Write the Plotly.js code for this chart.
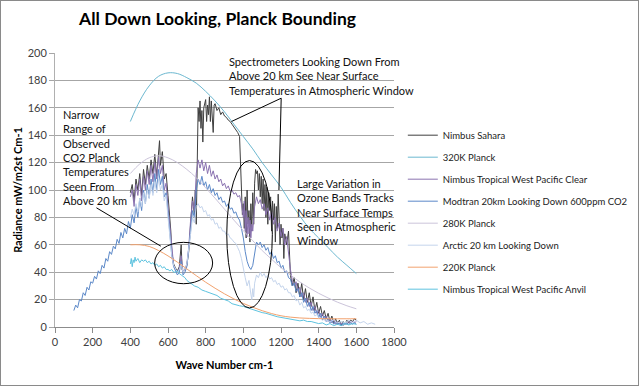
<!DOCTYPE html>
<html><head><meta charset="utf-8">
<script src="https://cdn.plot.ly/plotly-3.0.1.min.js"></script>
<style>
html,body{margin:0;padding:0;background:#fff;}
#chart{width:639px;height:386px;box-sizing:border-box;border:1px solid #8a8a8a;}
</style></head>
<body><div id="chart"></div>
<script>
// [wave number cm-1, radiance mW/m2 sr cm-1]
const nimbusSahara = [[400,98],[410,104],[420,92],[430,108],[440,100],[450,112],[460,96],[470,115],[480,104],[490,118],[500,108],[510,122],[520,112],[530,126],[540,110],[550,130],[555,136],[560,118],[570,128],[580,108],[590,112],[600,96],[610,82],[615,70],[620,55],[630,46],[640,43],[650,41],[660,44],[670,60],[675,42],[680,40],[690,42],[700,45],[710,55],[720,75],[730,95],[740,82],[745,100],[750,75],[755,120],[760,160],[765,150],[770,165],[775,145],[780,158],[785,135],[790,160],[800,166],[805,150],[810,162],[815,155],[820,168],[825,150],[830,165],[840,142],[845,162],[850,163],[860,158],[870,160],[880,155],[890,157],[900,154],[910,153],[920,151],[930,150],[940,148],[950,146],[960,144],[970,142],[980,139],[985,120],[990,100],[995,82],[1000,90],[1005,72],[1010,95],[1015,65],[1020,100],[1025,75],[1030,85],[1035,62],[1040,90],[1045,70],[1050,98],[1055,75],[1060,105],[1065,115],[1070,112],[1075,114],[1080,100],[1085,112],[1090,95],[1095,110],[1100,90],[1105,108],[1110,85],[1115,104],[1120,80],[1125,102],[1130,75],[1135,98],[1140,85],[1145,95],[1150,70],[1155,92],[1160,78],[1165,90],[1170,62],[1175,88],[1180,72],[1185,97],[1190,80],[1195,60],[1200,75],[1205,65],[1210,72],[1215,50],[1220,68],[1230,60],[1240,70],[1245,45],[1250,38],[1260,30],[1270,36],[1280,25],[1290,32],[1300,22],[1310,32],[1320,20],[1330,28],[1340,18],[1350,25],[1360,15],[1370,22],[1380,12],[1390,18],[1400,10],[1410,15],[1420,8],[1430,12],[1440,6],[1450,10],[1460,4],[1470,8],[1480,3],[1490,6],[1500,2],[1510,5],[1520,1],[1530,4],[1540,2],[1550,5],[1560,3],[1570,5],[1580,4],[1590,6],[1600,5]];

const planck320K = [[400,150],[450,165],[500,176],[550,183],[600,185.5],[650,185],[700,182],[750,178],[800,172],[850,165],[900,157],[950,148],[1000,139],[1050,130],[1100,120],[1150,111],[1200,102],[1250,91],[1300,81],[1350,72],[1400,65],[1450,58],[1500,51],[1550,45],[1600,39]];

const nimbusClear = [[400,95],[410,100],[420,88],[430,104],[440,96],[450,108],[460,92],[470,110],[480,100],[490,114],[500,104],[510,118],[520,106],[530,120],[540,108],[550,124],[560,112],[570,118],[580,100],[590,105],[600,88],[610,72],[620,55],[630,45],[640,42],[650,40],[660,43],[670,52],[680,40],[690,42],[700,46],[710,58],[720,78],[730,92],[740,85],[750,112],[760,122],[770,116],[780,122],[790,114],[800,120],[810,112],[820,118],[830,110],[840,114],[850,108],[860,111],[870,106],[880,108],[890,103],[900,105],[910,101],[920,103],[930,99],[940,100],[950,97],[960,98],[970,95],[980,96],[990,90],[1000,80],[1005,92],[1010,70],[1015,85],[1020,66],[1025,80],[1030,68],[1035,78],[1040,65],[1045,75],[1050,70],[1055,82],[1060,88],[1070,95],[1080,90],[1090,93],[1100,86],[1110,90],[1120,82],[1130,87],[1140,78],[1150,84],[1160,75],[1170,80],[1180,70],[1190,76],[1200,66],[1210,72],[1220,60],[1230,66],[1240,52],[1250,42],[1260,34],[1270,30],[1280,33],[1290,26],[1300,29],[1310,22],[1320,25],[1330,18],[1340,21],[1350,15],[1360,18],[1370,12],[1380,15],[1390,10],[1400,12],[1410,7],[1420,10],[1430,5],[1440,8],[1450,4],[1460,6],[1470,3],[1480,5],[1490,2],[1500,4],[1510,2],[1520,3],[1530,1],[1540,3],[1550,2],[1560,4],[1570,3],[1580,4],[1590,3],[1600,4]];

const modtran20km = [[100,12],[110,16],[120,14],[130,20],[140,19],[150,25],[160,23],[170,29],[180,27],[190,33],[200,32],[210,37],[220,35],[230,41],[240,39],[250,45],[260,43],[270,50],[280,48],[290,55],[300,53],[310,59],[320,57],[330,64],[340,61],[350,69],[360,65],[370,72],[380,68],[390,77],[400,72],[410,82],[420,76],[430,88],[440,80],[450,94],[460,85],[470,100],[480,90],[490,104],[500,94],[510,108],[520,98],[530,112],[540,100],[550,115],[560,104],[570,110],[580,95],[590,98],[600,84],[610,68],[620,52],[630,44],[640,41],[650,38],[660,40],[670,48],[680,38],[690,40],[700,44],[710,55],[720,70],[730,85],[740,80],[750,100],[760,108],[770,104],[780,110],[790,103],[800,106],[810,100],[820,104],[830,98],[840,101],[850,96],[860,98],[870,93],[880,95],[890,91],[900,92],[910,88],[920,90],[930,86],[940,87],[950,83],[960,84],[970,80],[980,78],[990,72],[1000,65],[1010,55],[1020,48],[1030,44],[1040,42],[1050,45],[1060,55],[1070,62],[1080,60],[1090,62],[1100,58],[1110,60],[1120,56],[1130,58],[1140,53],[1150,55],[1160,50],[1170,52],[1180,47],[1190,48],[1200,43],[1210,45],[1220,40],[1230,41],[1240,36],[1250,35],[1260,30],[1270,32],[1280,26],[1290,28],[1300,22],[1310,25],[1320,18],[1330,21],[1340,15],[1350,18],[1360,12],[1370,15],[1380,10],[1390,12],[1400,7],[1410,10],[1420,5],[1430,8],[1440,4],[1450,6],[1460,3],[1470,5],[1480,2],[1490,4],[1500,2],[1510,3],[1520,1],[1530,3],[1540,2],[1550,3],[1560,2],[1570,3],[1580,2],[1590,3],[1600,2]];

const planck280K = [[400,112],[450,119],[500,123.5],[550,125],[600,123.5],[650,120],[700,115],[750,109],[800,101.6],[850,94],[900,86],[950,78],[1000,70.3],[1050,63],[1100,55.8],[1150,49.5],[1200,43.3],[1250,38],[1300,32.9],[1350,28.5],[1400,24.6],[1450,21.2],[1500,18.1],[1550,15.5],[1600,13.3]];

const arctic20km = [[400,80],[410,86],[420,82],[430,90],[440,84],[450,94],[460,88],[470,98],[480,90],[490,100],[500,94],[510,104],[520,96],[530,106],[540,98],[550,108],[560,100],[570,104],[580,92],[590,96],[600,80],[610,66],[620,52],[630,45],[640,42],[650,40],[660,42],[670,46],[680,40],[690,42],[700,46],[710,56],[720,68],[730,80],[740,76],[750,88],[760,90],[770,87],[780,88],[790,84],[800,85],[810,81],[820,82],[830,78],[840,79],[850,75],[860,76],[870,72],[880,73],[890,70],[900,70],[910,67],[920,68],[930,65],[940,64],[950,62],[960,61],[970,58],[980,55],[990,50],[1000,42],[1010,36],[1020,30],[1030,34],[1040,24],[1045,20],[1050,28],[1055,22],[1060,32],[1070,38],[1080,36],[1090,40],[1100,37],[1110,39],[1120,36],[1130,38],[1140,35],[1150,36],[1160,33],[1170,34],[1180,31],[1190,32],[1200,29],[1210,30],[1220,27],[1230,28],[1240,25],[1250,25],[1260,22],[1270,23],[1280,19],[1290,20],[1300,16],[1310,18],[1320,14],[1330,15],[1340,12],[1350,13],[1360,10],[1370,11],[1380,8],[1390,9],[1400,7],[1420,6],[1440,5],[1460,4],[1480,5],[1500,3],[1520,4],[1540,3],[1560,5],[1580,3],[1600,5],[1620,3],[1640,4],[1660,2],[1680,3],[1700,2]];

const planck220K = [[400,60],[450,60],[500,58.8],[550,55.8],[600,51.9],[650,47.3],[700,42.4],[750,37.5],[800,32.7],[850,28.3],[900,24.2],[950,20.5],[1000,17.2],[1050,14.4],[1100,11.9],[1150,9.8],[1200,8.2],[1250,7.2],[1300,6.6],[1350,6.3],[1400,6.1],[1450,6],[1500,6],[1550,6],[1600,6]];

const nimbusAnvil = [[400,46],[405,50],[410,44],[415,49],[420,47],[425,51],[430,48],[440,50],[450,47],[460,49],[470,48],[480,49],[490,47],[500,48],[510,46],[520,47],[530,45],[540,46],[550,44],[560,45],[570,43],[580,44],[590,42],[600,42],[610,41],[620,42],[630,40],[640,40],[650,41],[660,39],[670,38],[680,37],[690,36],[700,34],[710,33],[720,32],[740,30],[760,29],[780,27],[800,26],[820,25],[840,24],[860,23],[880,21],[900,20],[920,19],[940,17],[960,16],[980,15.5],[1000,15],[1020,14],[1040,13.5],[1060,12],[1080,11],[1100,10.5],[1120,10],[1140,9],[1160,8],[1180,7.5],[1200,7],[1220,6.5],[1240,6],[1260,5.5],[1280,5],[1300,4.5],[1320,5],[1340,4],[1360,4],[1380,3],[1400,2.5],[1420,3],[1440,1.5],[1460,2.5],[1480,1],[1500,2],[1520,1],[1540,2.5],[1560,1.5],[1580,2.5],[1600,2]];

const seriesNames = ["Nimbus Sahara","320K Planck","Nimbus Tropical West Pacific Clear","Modtran 20km Looking Down 600ppm CO2","280K Planck","Arctic 20 km Looking Down","220K Planck","Nimbus Tropical West Pacific Anvil"];
const seriesData = [nimbusSahara, planck320K, nimbusClear, modtran20km, planck280K, arctic20km, planck220K, nimbusAnvil];
const seriesColors = ["#3f3f3f","#6cb8d0","#8a72b0","#5b88c8","#cbc4da","#c4d4ec","#f2a26e","#5ec3df"];
const smooth = [false,true,false,false,true,false,true,false];

const xTicks = [0,200,400,600,800,1000,1200,1400,1600,1800];
const yTicks = [0,20,40,60,80,100,120,140,160,180,200];

const FONT = "Lato, 'Liberation Sans', sans-serif";

const traces = seriesData.map((d,i)=>({
  type:'scatter', mode:'lines', name:seriesNames[i],
  x:d.map(p=>p[0]), y:d.map(p=>p[1]),
  line:{color:seriesColors[i], width:1, shape: smooth[i]?'spline':'linear'},
  legendgroup:'g'+i, hoverinfo:'x+y'
}));

const layout = {
  width:637, height:384,
  margin:{l:54,r:244,t:52,b:58,autoexpand:false},
  paper_bgcolor:'#fff', plot_bgcolor:'#fff',
  font:{family:FONT, color:'#333', size:11},
  title:{text:'<b>All Down Looking, Planck Bounding</b>', x:0.34, xanchor:'center', y:0.953, yanchor:'middle', font:{family:FONT,size:17.5,color:'#000'}},
  xaxis:{range:[0,1800], tickvals:xTicks, ticktext:xTicks.map(String), showgrid:false, zeroline:false,
    showline:true, linecolor:'#8c8c8c', linewidth:1, ticks:'outside', ticklen:5, tickcolor:'#8c8c8c',
    tickfont:{family:FONT,size:11,color:'#404040'},
    title:{text:'<b>Wave Number cm-1</b>', font:{family:FONT,size:11,color:'#000'}, standoff:14}},
  yaxis:{range:[0,200], tickvals:yTicks, ticktext:yTicks.map(String), showgrid:true, gridcolor:'#a6a6a6', gridwidth:1, zeroline:false,
    showline:true, linecolor:'#b0b0b0', linewidth:1, ticks:'outside', ticklen:5, tickcolor:'#a6a6a6',
    tickfont:{family:FONT,size:11,color:'#404040'},
    title:{text:'<b>Radiance mW/m2st Cm-1</b>', font:{family:FONT,size:11,color:'#000'}, standoff:2}},
  legend:{x:1.026, xanchor:'left', y:0.753, yanchor:'top', traceorder:'grouped', tracegroupgap:3,
    font:{family:FONT,size:9.5,color:'#222'}, bgcolor:'rgba(0,0,0,0)'},
  showlegend:true,
  shapes:[
    {type:'circle', xref:'x', yref:'y', x0:529, x1:837, y0:31.6, y1:61.8, line:{color:'#000',width:1}},
    {type:'circle', xref:'x', yref:'y', x0:912, x1:1154, y0:13.9, y1:121.5, line:{color:'#000',width:1}},
    {type:'line', xref:'x', yref:'y', x0:1201, y0:167, x1:937, y1:150, line:{color:'#000',width:1}},
    {type:'line', xref:'x', yref:'y', x0:1201, y0:167, x1:1189, y1:100, line:{color:'#000',width:1}},
    {type:'line', xref:'x', yref:'y', x0:220, y0:87, x1:562, y1:59, line:{color:'#000',width:1}}
  ],
  annotations:[
    {xref:'x', yref:'y', x:912, y:200, xanchor:'left', yanchor:'top', align:'left', showarrow:false,
     text:'Spectrometers Looking Down From<br>Above 20 km See Near Surface<br>Temperatures in Atmospheric Window', font:{family:FONT,size:11,color:'#111'}},
    {xref:'x', yref:'y', x:30, y:161, xanchor:'left', yanchor:'top', align:'left', showarrow:false,
     text:'Narrow<br>Range of<br>Observed<br>CO2 Planck<br>Temperatures<br>Seen From<br>Above 20 km', font:{family:FONT,size:11,color:'#111'}},
    {xref:'x', yref:'y', x:1276, y:111, xanchor:'left', yanchor:'top', align:'left', showarrow:false,
     text:'Large Variation in<br>Ozone Bands Tracks<br>Near Surface Temps<br>Seen in Atmospheric<br>Window', font:{family:FONT,size:11,color:'#111'}}
  ]
};

Plotly.newPlot('chart', traces, layout, {displayModeBar:false, staticPlot:true});
</script>
</body></html>
